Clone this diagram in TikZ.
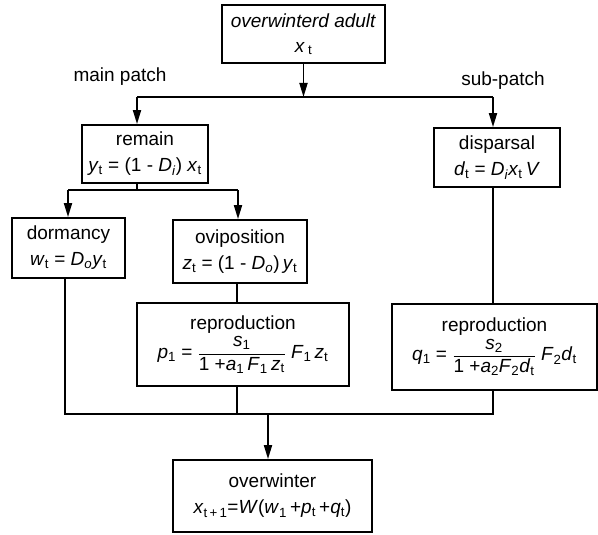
\documentclass[tikz,border=0pt]{standalone}
\usepackage{fontspec}
\setmainfont{Liberation Sans}
\usetikzlibrary{arrows.meta}
\newcommand\V[1]{\textit{#1}}
\newcommand\sbs[1]{\textsubscript{#1}}
\begin{document}
\begin{tikzpicture}[x=1pt,y=-1pt,
  box/.style={draw, line width=1.8pt, rectangle, inner sep=0pt, align=center,
    font=\fontsize{19}{26}\selectfont},
  lbl/.style={font=\fontsize{19}{22}\selectfont, inner sep=0pt},
  wire/.style={line width=1.8pt},
  arr/.style={line width=1.8pt, -{Triangle[length=14pt,width=8pt]}}]
\useasboundingbox (0,0) rectangle (598,535);
% boxes
\node[box, minimum width=163pt, minimum height=58pt] (top) at (303.5,34)
  {\textit{overwinterd adult}\\[-1pt] \V{x}\,\sbs{t}};
\node[box, minimum width=126pt, minimum height=58pt] (remain) at (145,154)
  {remain\\ \V{y}\sbs{t} = (1 - \V{D}\sbs{\V{i}}) \V{x}\sbs{t}};
\node[box, minimum width=126pt, minimum height=59pt] (disp) at (497,157.5)
  {disparsal\\ \V{d}\sbs{t} = \V{D}\sbs{\V{i}}\V{x}\sbs{t}\,\V{V}};
\node[box, minimum width=113pt, minimum height=60pt] (dorm) at (68.5,248)
  {dormancy\\ \V{w}\sbs{t} = \V{D}\sbs{\V{o}}\V{y}\sbs{t}};
\node[box, minimum width=134pt, minimum height=63pt] (ovi) at (240,251.5)
  {oviposition\\ \V{z}\sbs{t} = (1 - \V{D}\sbs{\V{o}})\,\V{y}\sbs{t}};
\node[box, minimum width=212pt, minimum height=83pt] (rep1) at (243,344.5)
  {reproduction\\[3pt] \V{p}\sbs{1} = $\displaystyle\frac{\mbox{\V{s}\sbs{1}}}{\mbox{1 +\V{a}\sbs{1}\,\V{F}\sbs{1}\,\V{z}\sbs{t}}}$ \V{F}\sbs{1}\,\V{z}\sbs{t}};
\node[box, minimum width=205pt, minimum height=86pt] (rep2) at (494.5,347)
  {reproduction\\[3pt] \V{q}\sbs{1} = $\displaystyle\frac{\mbox{\V{s}\sbs{2}}}{\mbox{1 +\V{a}\sbs{2}\V{F}\sbs{2}\V{d}\sbs{t}}}$ \V{F}\sbs{2}\V{d}\sbs{t}};
\node[box, minimum width=199pt, minimum height=72pt] (ow) at (272.5,496)
  {overwinter\\ \V{x}\sbs{t\,+\,1}=\V{W}(\V{w}\sbs{1}\,+\V{p}\sbs{t}\,+\V{q}\sbs{t})};
% labels
\node[lbl] (mainlbl) at (120,77) {main patch};
\node[lbl] (sublbl) at (503,81) {sub-patch};
% junction coordinates
\coordinate (j0) at (303.5,97);
\coordinate (jl) at (137,97);
\coordinate (jr) at (493,97);
\coordinate (r0) at (137,183);
\coordinate (r1) at (137,190);
\coordinate (rl) at (68,190);
\coordinate (rr) at (238,190);
\coordinate (b0) at (65,414);
\coordinate (b1) at (237,414);
\coordinate (b2) at (268,414);
\coordinate (b3) at (493,414);
% connectors
\draw[arr] (top) -- (j0);
\draw[wire] (jl) -- (jr);
\draw[arr] (jl) -- (jl |- remain.north);
\draw[arr] (jr) -- (jr |- disp.north);
\draw[wire] (r0) -- (r1);
\draw[wire] (rl) -- (rr);
\draw[arr] (rl) -- (rl |- dorm.north);
\draw[arr] (rr) -- (rr |- ovi.north);
\draw[wire] (ovi.south -| b1) -- (b1 |- rep1.north);
\draw[wire] (disp.south -| b3) -- (b3 |- rep2.north);
\draw[wire] (b0 |- dorm.south) -- (b0) -- (b3) -- (b3 |- rep2.south);
\draw[wire] (b1 |- rep1.south) -- (b1);
\draw[arr] (b2) -- (b2 |- ow.north);
\end{tikzpicture}
\end{document}
